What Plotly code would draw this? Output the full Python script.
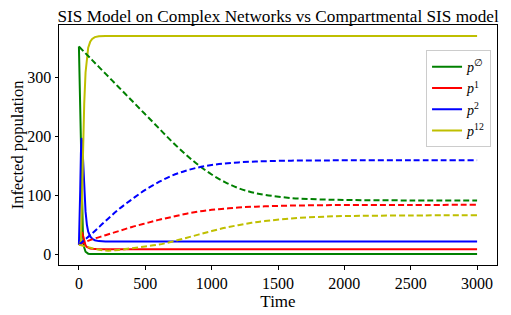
import plotly.graph_objects as go

# --- Network SIS model (solid) ---
t_net = [0, 5, 10, 15, 20, 25, 30, 35, 40, 50, 60, 70, 85, 100, 120, 150, 200, 300, 500, 1000, 2000, 3000]
p0_net = [352, 300, 230, 160, 100, 60, 35, 20, 11, 4, 1.5, 0.7, 0.3, 0.2, 0.1, 0.1, 0.1, 0.1, 0.1, 0.1, 0.1, 0.1]
p1_net = [16, 22, 30, 35, 37, 36, 32, 27, 22, 15, 12, 10.5, 9.5, 9, 8.5, 8.2, 8, 8, 8, 8, 8, 8]
p2_net = [16, 50, 110, 170, 197, 190, 165, 135, 110, 72, 50, 38, 30, 26, 23.5, 22, 21.5, 21.5, 21.5, 21.5, 21.5, 21.5]
p12_net = [16, 17, 18, 22, 50, 105, 160, 212, 255, 308, 336, 350, 360, 365, 368, 369.5, 370, 370, 370, 370, 370, 370]

# --- Compartmental SIS model (dashed) ---
t_comp = [0, 100, 200, 300, 400, 500, 600, 700, 800, 900, 1000, 1100, 1200, 1300, 1400, 1600, 1800, 2000, 2500, 3000]
p0_comp = [352, 329, 306, 283, 260, 237, 214, 191, 170, 151, 135, 122, 112, 105, 100.5, 95, 92.8, 91.8, 91, 90.7]
p1_comp = [16, 25, 32, 39, 46, 52, 58, 63, 68, 72, 75, 77.2, 79, 80.2, 81, 82.3, 82.8, 83.2, 83.4, 83.5]
p2_comp = [16, 35, 56, 76, 93, 109, 122, 133, 141, 147, 151, 153.8, 155.5, 156.7, 157.5, 158.5, 158.8, 159, 159, 159]
p12_comp = [16, 10, 6, 7, 10, 13, 16, 21, 27, 33, 39, 44.5, 49, 53, 56, 60.5, 63, 64.5, 65.5, 66]

labels = ["<i>p</i><sup>∅</sup>", "<i>p</i><sup>1</sup>", "<i>p</i><sup>2</sup>", "<i>p</i><sup>12</sup>"]
colors = ["#008000", "#ff0000", "#0000ff", "#bfbf00"]
x_ticks = [0, 500, 1000, 1500, 2000, 2500, 3000]
y_ticks = [0, 100, 200, 300]

FONT = "Liberation Serif, Times New Roman, DejaVu Serif, serif"

fig = go.Figure()
for lab, col, ys in zip(labels, colors, [p0_net, p1_net, p2_net, p12_net]):
    fig.add_trace(go.Scatter(x=t_net, y=ys, mode="lines", name=lab,
                             line=dict(color=col, width=2), showlegend=True))
for lab, col, ys in zip(labels, colors, [p0_comp, p1_comp, p2_comp, p12_comp]):
    fig.add_trace(go.Scatter(x=t_comp, y=ys, mode="lines", name=lab,
                             line=dict(color=col, width=2, dash="6px,3px", shape="spline"),
                             showlegend=False))

axis_common = dict(showline=True, mirror=True, linecolor="black", linewidth=1,
                   ticks="outside", ticklen=3.5, tickcolor="black", showgrid=False,
                   zeroline=False, automargin=False,
                   tickfont=dict(family=FONT, size=16, color="black"))

# page body has an 8px default margin: the figure is sized/offset for that
fig.update_layout(
    width=503, height=307,
    margin=dict(l=51, r=14, t=17, b=50),
    paper_bgcolor="white", plot_bgcolor="white",
    font=dict(family=FONT, color="black"),
    title=dict(text="SIS Model on Complex Networks vs Compartmental SIS model",
               x=0.537, xanchor="center", xref="container",
               y=0.973, yanchor="middle", yref="container",
               font=dict(family=FONT, size=17.2, color="black")),
    xaxis=dict(range=[-150, 3150], tickvals=x_ticks,
               title=dict(text="Time", font=dict(family=FONT, size=17, color="black"), standoff=2),
               **axis_common),
    yaxis=dict(range=[-18.5, 388.5], tickvals=y_ticks,
               title=dict(text="Infected population", font=dict(family=FONT, size=16.5, color="black"), standoff=4),
               **axis_common),
    legend=dict(x=0.838, y=0.895, xanchor="left", yanchor="top",
                bgcolor="rgba(255,255,255,0.8)", bordercolor="#cccccc", borderwidth=1,
                font=dict(family=FONT, size=14, color="black"),
                tracegroupgap=0, itemwidth=30),
)

fig.write_html("out.html")
